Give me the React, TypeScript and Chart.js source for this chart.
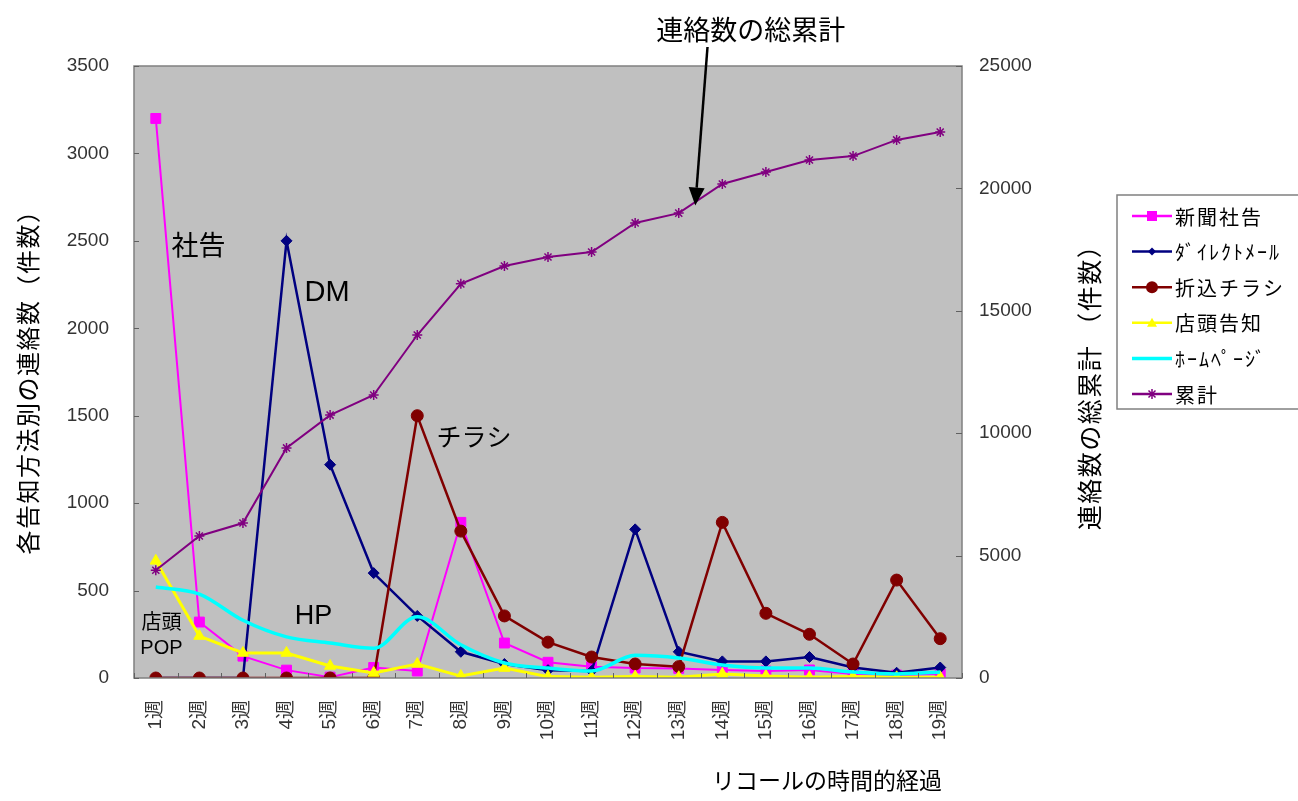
import { useEffect, useRef } from "react";
import { Chart, registerables } from "chart.js";

Chart.register(...registerables);

const weeks = ["1週", "2週", "3週", "4週", "5週", "6週", "7週", "8週", "9週", "10週", "11週", "12週", "13週", "14週", "15週", "16週", "17週", "18週", "19週"];

const seriesNames = ["新聞社告", "ﾀﾞｲﾚｸﾄﾒｰﾙ", "折込チラシ", "店頭告知", "ﾎｰﾑﾍﾟｰｼﾞ", "累計"];

const shakokuValues = [3200, 320, 125, 45, 5, 60, 40, 890, 200, 90, 65, 57, 55, 46, 40, 46, 23, 17, 23];
const dmValues = [0, 0, 0, 2500, 1220, 600, 355, 150, 80, 45, 40, 850, 150, 95, 95, 120, 60, 30, 60];
const chirashiValues = [0, 0, 0, 0, 0, 0, 1500, 840, 355, 205, 120, 80, 65, 890, 370, 250, 80, 560, 225];
const tentouValues = [670, 240, 143, 143, 69, 29, 80, 11, 57, 8, 4, 8, 4, 23, 12, 4, 8, 4, 4];
const hpValues = [520, 480, 330, 235, 200, 170, 350, 190, 86, 57, 40, 130, 115, 74, 57, 57, 34, 23, 34];
const cumulativeValues = [4400, 5800, 6330, 9400, 10740, 11560, 14010, 16100, 16830, 17200, 17400, 18590, 18990, 20180, 20670, 21160, 21320, 21980, 22300];

const leftTicks = [0, 500, 1000, 1500, 2000, 2500, 3000, 3500];
const rightTicks = [0, 5000, 10000, 15000, 20000, 25000];

const leftTitle = "各告知方法別の連絡数（件数）";
const rightTitle = "連絡数の総累計 （件数）";
const xTitle = "リコールの時間的経過";
const arrowTitle = "連絡数の総累計";

// annotation labels in data space: text, category position, left-axis value, font size
const noteTexts = ["社告", "DM", "チラシ", "HP"];
const notePositions = [0.98, 3.93, 7.3, 3.62];
const noteValues = [2480, 2200, 1380, 350];
const noteSizes = [27, 29, 25, 27];

const colors = ["#ff00ff", "#000080", "#800000", "#ffff00", "#00ffff", "#800080"];
const pointStyles = ["rect", "rectRot", "circle", "triangle", false, "star"];

const CJK = '"Noto Sans CJK JP", "Noto Sans", sans-serif';
const LAT = '"Liberation Sans", Arial, "Noto Sans CJK JP", sans-serif';

function drawMarker(ctx: CanvasRenderingContext2D, style: any, x: number, y: number, r: number, color: string) {
  if (!style) return;
  ctx.save();
  ctx.fillStyle = color;
  ctx.strokeStyle = color;
  ctx.lineWidth = 1.5;
  ctx.beginPath();
  if (style === "rect") {
    ctx.rect(x - r, y - r, 2 * r, 2 * r);
    ctx.fill();
  } else if (style === "rectRot") {
    ctx.moveTo(x, y - r);
    ctx.lineTo(x + r, y);
    ctx.lineTo(x, y + r);
    ctx.lineTo(x - r, y);
    ctx.closePath();
    ctx.fill();
  } else if (style === "circle") {
    ctx.arc(x, y, r, 0, Math.PI * 2);
    ctx.fill();
  } else if (style === "triangle") {
    ctx.moveTo(x, y - r);
    ctx.lineTo(x + r, y + r * 0.8);
    ctx.lineTo(x - r, y + r * 0.8);
    ctx.closePath();
    ctx.fill();
  } else if (style === "star") {
    ctx.moveTo(x - r, y);
    ctx.lineTo(x + r, y);
    ctx.moveTo(x, y - r);
    ctx.lineTo(x, y + r);
    ctx.moveTo(x - r * 0.7, y - r * 0.7);
    ctx.lineTo(x + r * 0.7, y + r * 0.7);
    ctx.moveTo(x - r * 0.7, y + r * 0.7);
    ctx.lineTo(x + r * 0.7, y - r * 0.7);
    ctx.stroke();
  }
  ctx.restore();
}

const decorPlugin = {
  id: "decor",
  beforeDraw(chart: any) {
    const { ctx, chartArea: a } = chart;
    ctx.save();
    ctx.fillStyle = "#c0c0c0";
    ctx.fillRect(a.left, a.top, a.right - a.left, a.bottom - a.top);
    ctx.restore();
  },
  afterDraw(chart: any) {
    const { ctx, chartArea: a, scales } = chart;
    const xs = scales.x;
    const ys = scales.y;
    const y1 = scales.y1;
    ctx.save();
    // frame
    ctx.strokeStyle = "#808080";
    ctx.lineWidth = 1.5;
    ctx.strokeRect(a.left, a.top, a.right - a.left, a.bottom - a.top);
    ctx.strokeStyle = "#606060";
    ctx.lineWidth = 1;
    ctx.beginPath();
    leftTicks.forEach((v) => {
      const py = Math.round(ys.getPixelForValue(v)) + 0.5;
      ctx.moveTo(a.left, py);
      ctx.lineTo(a.left + 5, py);
    });
    rightTicks.forEach((v) => {
      const py = Math.round(y1.getPixelForValue(v)) + 0.5;
      ctx.moveTo(a.right, py);
      ctx.lineTo(a.right - 6, py);
    });
    for (let i = 0; i <= weeks.length; i++) {
      const px = Math.round(xs.getPixelForValue(i - 0.5)) + 0.5;
      ctx.moveTo(px, a.bottom);
      ctx.lineTo(px, a.bottom - 5);
    }
    ctx.stroke();

    // axis titles
    ctx.fillStyle = "#000";
    ctx.textAlign = "center";
    ctx.textBaseline = "middle";
    ctx.font = `24px ${CJK}`;
    (ctx as any).letterSpacing = "1.5px";
    ctx.save();
    ctx.translate(28, 376);
    ctx.rotate(-Math.PI / 2);
    ctx.fillText(leftTitle, 0, 0);
    ctx.restore();
    ctx.font = `25px ${CJK}`;
    ctx.save();
    ctx.translate(1089, 381);
    ctx.rotate(-Math.PI / 2);
    ctx.fillText(rightTitle, 0, 0);
    ctx.restore();
    (ctx as any).letterSpacing = "0px";
    ctx.font = `23px ${CJK}`;
    ctx.textAlign = "right";
    ctx.fillText(xTitle, 942, 780);

    // annotations
    ctx.textAlign = "center";
    noteTexts.forEach((t, i) => {
      const px = xs.getPixelForValue(notePositions[i]);
      const py = ys.getPixelForValue(noteValues[i]);
      ctx.font = /^[A-Z]+$/.test(t) ? `${noteSizes[i]}px ${LAT}` : `${noteSizes[i]}px ${CJK}`;
      ctx.fillText(t, px, py);
    });
    const popX = xs.getPixelForValue(0.13);
    ctx.font = `20px ${CJK}`;
    ctx.fillText("店頭", popX, ys.getPixelForValue(325));
    ctx.font = `20px ${LAT}`;
    ctx.fillText("POP", popX, ys.getPixelForValue(170));

    // arrow to cumulative line
    const tipX = xs.getPixelForValue(12.38);
    const tipY = y1.getPixelForValue(19300);
    const startX = xs.getPixelForValue(12.66);
    const startY = a.top - 19;
    ctx.font = `27px ${CJK}`;
    ctx.textAlign = "center";
    ctx.fillText(arrowTitle, xs.getPixelForValue(13.65), 30);
    const ang = Math.atan2(tipY - startY, tipX - startX);
    const hl = 18, hw = 8;
    const bx = tipX - hl * Math.cos(ang);
    const by = tipY - hl * Math.sin(ang);
    ctx.strokeStyle = "#000";
    ctx.lineWidth = 2.5;
    ctx.beginPath();
    ctx.moveTo(startX, startY);
    ctx.lineTo(bx, by);
    ctx.stroke();
    ctx.fillStyle = "#000";
    ctx.beginPath();
    ctx.moveTo(tipX, tipY);
    ctx.lineTo(bx + hw * Math.sin(ang), by - hw * Math.cos(ang));
    ctx.lineTo(bx - hw * Math.sin(ang), by + hw * Math.cos(ang));
    ctx.closePath();
    ctx.fill();

    // legend
    const lx = 1117, ly = 195, lw = 190, lh = 214;
    ctx.fillStyle = "#ffffff";
    ctx.fillRect(lx, ly, lw, lh);
    ctx.strokeStyle = "#808080";
    ctx.lineWidth = 1.5;
    ctx.strokeRect(lx, ly, lw, lh);
    ctx.textAlign = "left";
    ctx.textBaseline = "middle";
    ctx.font = `20px ${CJK}`;
    (ctx as any).letterSpacing = "2px";
    seriesNames.forEach((name, i) => {
      const cy = ly + 21 + i * 35.6;
      ctx.strokeStyle = colors[i];
      ctx.lineWidth = i === 4 ? 3.5 : 2.5;
      ctx.beginPath();
      ctx.moveTo(lx + 15, cy);
      ctx.lineTo(lx + 55, cy);
      ctx.stroke();
      const ms = [5, 4, 6, 5, 0, 5][i];
      drawMarker(ctx, pointStyles[i], lx + 35, cy, ms, colors[i]);
      ctx.fillStyle = "#000";
      ctx.fillText(name, lx + 58, cy + 1);
    });
    (ctx as any).letterSpacing = "0px";
    ctx.restore();
  },
};

export default function App() {
  const ref = useRef<HTMLCanvasElement>(null);
  useEffect(() => {
    document.body.style.margin = "0";
    const values = [shakokuValues, dmValues, chirashiValues, tentouValues, hpValues, cumulativeValues];
    const widths = [2, 2.5, 2.5, 3, 3.5, 2];
    const radii = [7, 5.5, 6, 6.5, 0, 5];
    const chart = new Chart(ref.current as HTMLCanvasElement, {
      type: "line",
      data: {
        labels: weeks,
        datasets: values.map((v, i) => ({
          label: seriesNames[i],
          data: v,
          borderColor: colors[i],
          backgroundColor: colors[i],
          borderWidth: widths[i],
          pointStyle: pointStyles[i] as any,
          pointRadius: radii[i],
          pointBorderWidth: i === 5 ? 1.5 : 1,
          pointBorderColor: colors[i],
          pointBackgroundColor: colors[i],
          tension: i === 4 ? 0.4 : 0,
          cubicInterpolationMode: i === 4 ? "monotone" : "default",
          yAxisID: i === 5 ? "y1" : "y",
          order: 5 - i,
          fill: false,
        })) as any,
      },
      options: {
        animation: false,
        responsive: false,
        devicePixelRatio: 1,
        layout: { padding: { top: 66, left: 0, right: 0, bottom: 0 } },
        plugins: { legend: { display: false }, tooltip: { enabled: false } },
        scales: {
          x: {
            type: "category",
            offset: true,
            grid: { display: false, drawTicks: false },
            border: { display: false },
            ticks: {
              minRotation: 90,
              maxRotation: 90,
              autoSkip: false,
              padding: 22,
              color: "#333",
              font: { size: 19, family: LAT },
            },
            afterFit(s: any) {
              s.height = 123;
            },
          },
          y: {
            position: "left",
            min: 0,
            max: 3500,
            grid: { display: false, drawTicks: false },
            border: { display: false },
            ticks: {
              stepSize: 500,
              padding: 25,
              color: "#333",
              font: { size: 19, family: LAT },
              callback: (v: any) => String(v),
            },
            afterFit(s: any) {
              s.width = 134;
            },
          },
          y1: {
            position: "right",
            min: 0,
            max: 25000,
            grid: { display: false, drawTicks: false },
            border: { display: false },
            ticks: {
              stepSize: 5000,
              padding: 17,
              color: "#333",
              font: { size: 19, family: LAT },
              callback: (v: any) => String(v),
            },
            afterFit(s: any) {
              s.width = 336;
            },
          },
        },
      },
      plugins: [decorPlugin],
    });
    return () => chart.destroy();
  }, []);
  return (
    <div style={{ width: 1298, height: 801, position: "relative" }}>
      <canvas ref={ref} width={1298} height={801} />
    </div>
  );
}
